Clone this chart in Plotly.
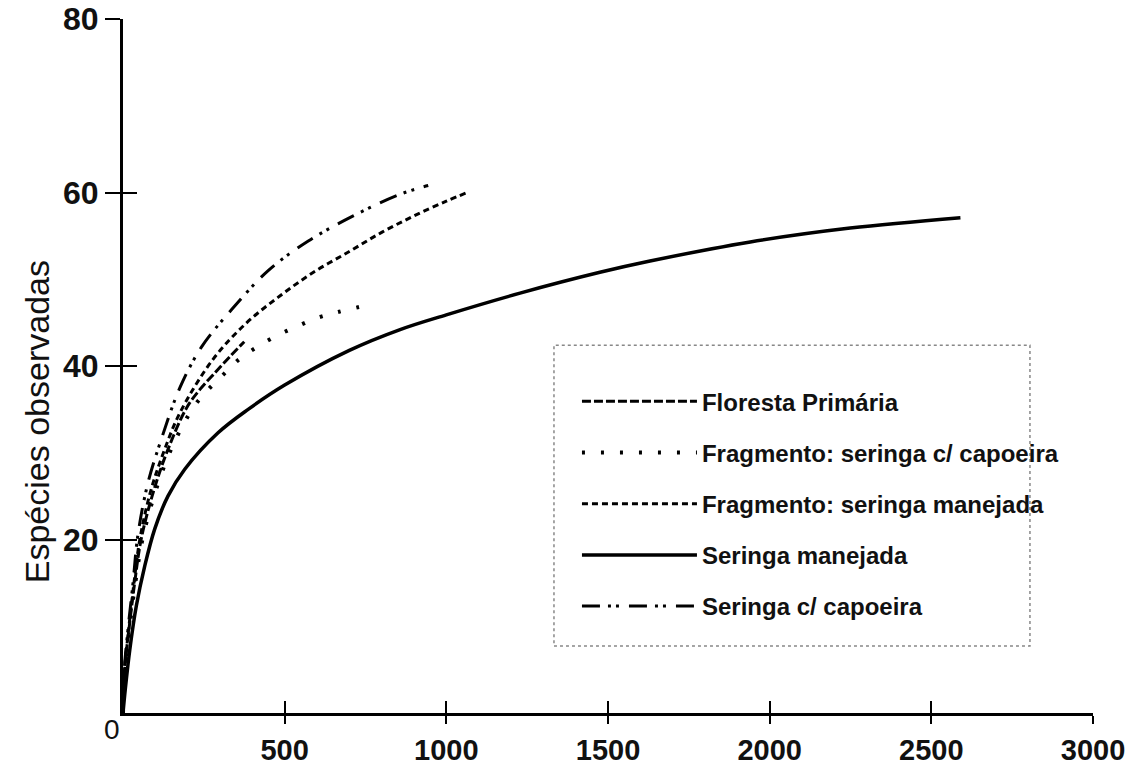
import plotly.graph_objects as go

# ---- data ----
series_names = [
    "Floresta Primária",
    "Fragmento: seringa c/ capoeira",
    "Fragmento: seringa manejada",
    "Seringa manejada",
    "Seringa c/ capoeira",
]

floresta_x = [0, 5, 18, 36, 56, 90, 135, 197, 238, 279, 331, 375]
floresta_y = [0, 5, 9.5, 15, 20, 25, 30, 35.2, 37.3, 39.0, 41.1, 42.8]

frag_cap_x = [0, 5, 19, 38, 60, 100, 150, 217, 259, 310, 360, 415, 475, 535, 597, 663, 730]
frag_cap_y = [0, 5, 9.5, 15, 20, 25.5, 30.5, 35.2, 37.1, 39.0, 40.8, 42.2, 43.5, 44.5, 45.5, 46.2, 46.8]

frag_man_x = [0, 5, 17, 34, 52, 85, 125, 176, 279, 383, 486, 589, 700, 800, 900, 1000, 1065]
frag_man_y = [0, 5, 9.5, 15, 20, 25.5, 30, 34.6, 40.8, 45.0, 48.1, 50.8, 53.2, 55.4, 57.3, 59.0, 60.0]

ser_man_x = [0, 7, 21, 41, 67, 98, 139, 191, 294, 387, 500, 700, 857, 1000, 1228, 1475, 1630, 1940, 2249, 2590]
ser_man_y = [0, 2.7, 7.3, 12.3, 16.9, 21.2, 25.0, 28.1, 32.3, 35.0, 37.8, 41.8, 44.2, 45.9, 48.4, 50.8, 52.1, 54.3, 55.9, 57.1]

ser_cap_x = [0, 4, 15, 31, 46, 77, 118, 176, 243, 336, 449, 573, 712, 857, 944]
ser_cap_y = [0, 5, 9.5, 15, 20.5, 26.5, 31.5, 37.5, 42.2, 46.5, 51.0, 54.4, 57.3, 59.8, 60.8]

x_ticks = [500, 1000, 1500, 2000, 2500, 3000]
y_ticks = [20, 40, 60, 80]

xs = [floresta_x, frag_cap_x, frag_man_x, ser_man_x, ser_cap_x]
ys = [floresta_y, frag_cap_y, frag_man_y, ser_man_y, ser_cap_y]
dashes = ["9px,3px", "3px,16px", "6px,4px", "solid", "18px,8px,3px,5px,3px,10px"]
widths = [3, 4, 3, 3.5, 3]

FONT = "Liberation Sans, Arial, sans-serif"

fig = go.Figure()
for i, name in enumerate(series_names):
    fig.add_trace(go.Scatter(
        x=xs[i], y=ys[i], mode="lines", name=name,
        line=dict(color="black", width=widths[i], dash=dashes[i], shape="spline", smoothing=1),
        legendgroup=f"g{i}",
    ))

# invisible helper trace on overlay axes (for crossing tick marks)
fig.add_trace(go.Scatter(x=[], y=[], xaxis="x2", yaxis="y2", showlegend=False, hoverinfo="skip"))

fig.update_layout(
    width=1125, height=765,
    margin=dict(l=123, r=32, t=19, b=52),
    paper_bgcolor="white", plot_bgcolor="white",
    font=dict(family=FONT, color="black"),
    showlegend=True,
    legend=dict(
        x=0.468, y=0.481, xanchor="left", yanchor="top",
        font=dict(family=FONT, size=24, color="#111", weight="bold"),
        itemwidth=115, tracegroupgap=17,
        bgcolor="rgba(0,0,0,0)", borderwidth=0,
    ),
    xaxis=dict(
        range=[0, 3000], tickvals=x_ticks, ticktext=[str(v) for v in x_ticks],
        showline=True, linecolor="black", linewidth=3,
        ticks="outside", ticklen=8, tickwidth=2, tickcolor="black",
        showgrid=False, zeroline=False, automargin=False,
        tickfont=dict(family=FONT, size=29, color="#111", weight="bold"),
        ticklabelstandoff=1, ticklabeloverflow="allow",
    ),
    yaxis=dict(
        range=[0, 80], tickvals=y_ticks, ticktext=[str(v) for v in y_ticks],
        showline=True, linecolor="black", linewidth=3,
        ticks="outside", ticklen=15, tickwidth=2, tickcolor="black",
        showgrid=False, zeroline=False, automargin=False,
        tickfont=dict(family=FONT, size=32, color="#111", weight="bold"),
        ticklabeloverflow="allow",
    ),
    xaxis2=dict(
        range=[0, 3000], overlaying="x", anchor="y", tickvals=x_ticks,
        showticklabels=False, ticks="inside", ticklen=12, tickwidth=2, tickcolor="black",
        showline=False, showgrid=False, zeroline=False,
    ),
    yaxis2=dict(
        range=[0, 80], overlaying="y", anchor="x", tickvals=y_ticks,
        showticklabels=False, ticks="inside", ticklen=14, tickwidth=2, tickcolor="black",
        showline=False, showgrid=False, zeroline=False,
    ),
    shapes=[dict(
        type="rect", xref="paper", yref="paper",
        x0=0.4443, x1=0.935, y0=0.0965, y1=0.530,
        line=dict(color="#888", width=1.5, dash="dot"), fillcolor="rgba(0,0,0,0)",
        layer="below",
    )],
    annotations=[
        dict(
            text="0", xref="paper", yref="paper", x=0, y=0,
            xanchor="center", yanchor="middle", xshift=-11, yshift=-16,
            showarrow=False, font=dict(family=FONT, size=28, color="#111"),
        ),
        dict(
            text="Espécies observadas", xref="paper", yref="paper", x=0, y=0.419,
            xanchor="center", yanchor="middle", xshift=-86, textangle=-90,
            showarrow=False, font=dict(family=FONT, size=34, color="#111"),
        ),
    ],
)

fig.write_html(
    "out.html",
    config={"displayModeBar": False},
    post_script="document.body.style.margin='0';document.body.style.overflow='hidden';",
)
